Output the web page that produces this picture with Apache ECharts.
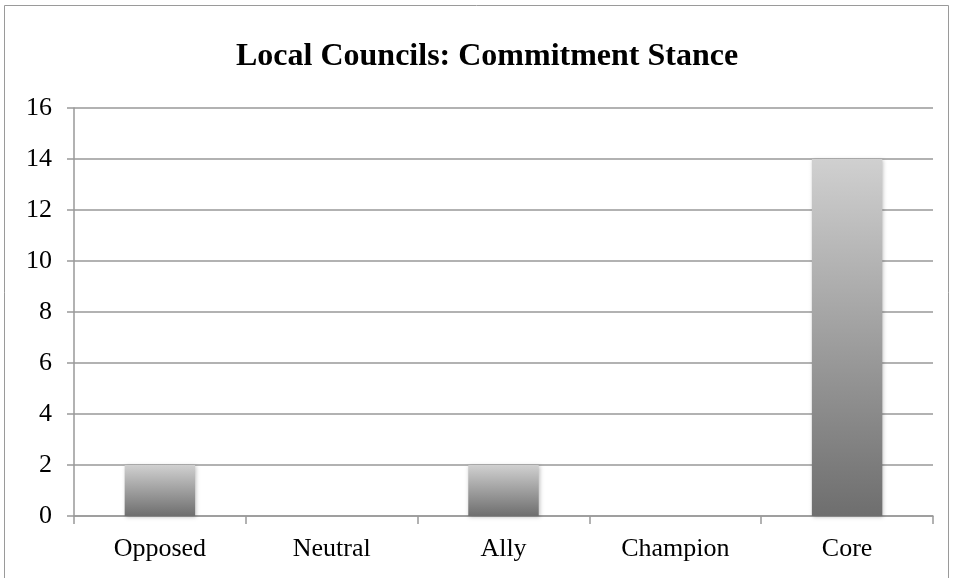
<!DOCTYPE html>
<html><head><meta charset="utf-8">
<script src="https://cdn.jsdelivr.net/npm/echarts@6/dist/echarts.min.js"></script>
<style>html,body{margin:0;padding:0;background:#fff}#c{width:956px;height:578px}</style>
</head><body><div id="c"></div>
<script>
const categories = ["Opposed", "Neutral", "Ally", "Champion", "Core"];
const values = [2, 0, 2, 0, 14];
const yTicks = [0, 2, 4, 6, 8, 10, 12, 14, 16];

const chart = echarts.init(document.getElementById('c'));
const font = '"Liberation Serif", "Times New Roman", serif';
chart.setOption({
  backgroundColor: '#fff',
  animation: false,
  graphic: [{
    type: 'rect', shape: {x: 4.5, y: 5.5, width: 944, height: 580},
    style: {fill: 'none', stroke: '#9a9a9a', lineWidth: 1}, z: -1
  }],
  title: {
    text: 'Local Councils: Commitment Stance', left: 231, top: 36,
    textStyle: {fontFamily: font, fontSize: 32, fontWeight: 'bold', color: '#000'}
  },
  grid: {left: 74, right: 23, top: 108, bottom: 62, containLabel: false},
  xAxis: {
    type: 'category', data: categories,
    axisLine: {lineStyle: {color: '#999', width: 1.5}},
    axisTick: {show: true, alignWithLabel: false, length: 8, lineStyle: {color: '#999', width: 1.5}},
    axisLabel: {fontFamily: font, fontSize: 26, color: '#000', margin: 20}
  },
  yAxis: {
    type: 'value', min: yTicks[0], max: yTicks[yTicks.length - 1], interval: 2,
    axisLine: {show: true, lineStyle: {color: '#999', width: 1.5}},
    axisTick: {show: true, length: 7, lineStyle: {color: '#999', width: 1.5}},
    splitLine: {lineStyle: {color: '#999', width: 1.5}},
    axisLabel: {fontFamily: font, fontSize: 26, color: '#000', margin: 22}
  },
  series: [{
    type: 'bar', data: values, barWidth: '41%',
    itemStyle: {
      color: new echarts.graphic.LinearGradient(0, 0, 0, 1, [
        {offset: 0, color: '#d0d0d0'}, {offset: 1, color: '#6e6e6e'}
      ]),
      shadowBlur: 4, shadowColor: 'rgba(0,0,0,0.25)', shadowOffsetX: 1, shadowOffsetY: 1
    }
  }]
});
</script></body></html>
